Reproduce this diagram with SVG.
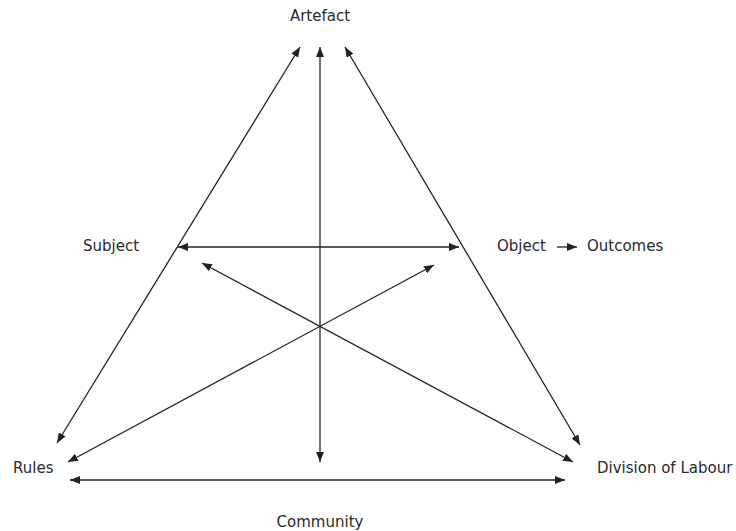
<svg xmlns="http://www.w3.org/2000/svg" width="736" height="531" viewBox="0 0 736 531">
<defs>
<marker id="ah" markerUnits="userSpaceOnUse" markerWidth="10" markerHeight="8" viewBox="0 0 10 8" refX="10" refY="4" orient="auto-start-reverse">
<path d="M0,0 L10,4 L0,8 z" fill="#222"/>
</marker>
<style>
.lbl{font-family:"DejaVu Sans","Liberation Sans",sans-serif;font-size:15px;fill:#2a2a2a}
.c{fill:none;stroke:#222;stroke-width:1.3}
.a2{marker-start:url(#ah);marker-end:url(#ah)}
.a1{marker-end:url(#ah)}
</style>
</defs>
<rect width="736" height="531" fill="#fff"/>
<g id="connectors">
<line class="c a2" x1="300" y1="47" x2="57" y2="443"/>
<line class="c a2" x1="320" y1="47" x2="320" y2="462"/>
<line class="c a2" x1="345" y1="47" x2="580" y2="445"/>
<line class="c a2" x1="178" y1="247" x2="459" y2="247"/>
<line class="c a2" x1="202" y1="263" x2="573" y2="462"/>
<line class="c a2" x1="434" y1="265" x2="68" y2="462"/>
<line class="c a2" x1="70" y1="480" x2="565" y2="480"/>
<line class="c a1" x1="557" y1="247" x2="577" y2="247"/>
</g>
<g id="artefact"><text class="lbl" x="320" y="21" text-anchor="middle">Artefact</text></g>
<g id="subject"><text class="lbl" x="83" y="251">Subject</text></g>
<g id="object"><text class="lbl" x="497" y="251">Object</text></g>
<g id="outcomes"><text class="lbl" x="587" y="251">Outcomes</text></g>
<g id="rules"><text class="lbl" x="13" y="473">Rules</text></g>
<g id="division"><text class="lbl" x="597" y="473">Division of Labour</text></g>
<g id="community"><text class="lbl" x="320" y="527" text-anchor="middle">Community</text></g>
</svg>
